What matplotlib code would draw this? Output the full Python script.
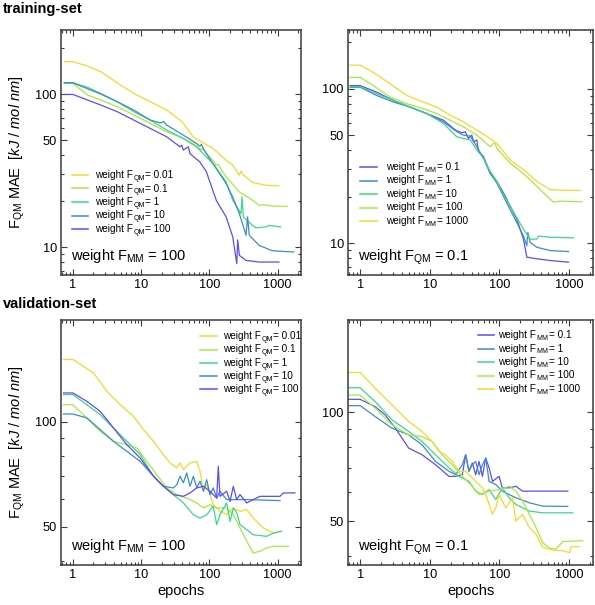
import matplotlib
matplotlib.use("Agg")
import matplotlib.pyplot as plt
from matplotlib.lines import Line2D
from matplotlib.ticker import LogLocator, FixedLocator, NullFormatter, FixedFormatter

plt.rcParams['font.family'] = ['Liberation Sans', 'DejaVu Sans']
plt.rcParams['mathtext.fontset'] = 'custom'
plt.rcParams['mathtext.rm'] = 'Liberation Sans'
plt.rcParams['mathtext.it'] = 'Liberation Sans:italic'
plt.rcParams['mathtext.bf'] = 'Liberation Sans:bold'

# ---------------- data: training-set, weight F_MM = 100 ----------------
tr_qm001_ep = [0.75, 1, 1.65, 2.57, 3.59, 5.02, 7.83, 13.7, 23.8, 37.2, 41.5, 58, 72.4, 113, 176, 220, 275, 291, 307, 430, 670, 1046]
tr_qm001_v = [162.7, 162.7, 152.4, 140, 126.6, 114.5, 101, 89.1, 78.6, 67.6, 64.3, 52.6, 49.6, 44.2, 37.0, 34.4, 29.5, 31.5, 30.0, 26.5, 25.4, 25.2]
tr_qm01_ep = [0.75, 1, 1.65, 2.57, 4.49, 7.83, 13.7, 23.8, 37.2, 58, 76.6, 80.9, 85.6, 113, 126, 134, 176, 275, 430, 536, 600, 837, 1381]
tr_qm01_v = [117.4, 117.4, 98.5, 91.4, 82.6, 72.9, 64.3, 56.7, 52.6, 47.6, 43.1, 44.6, 42.0, 37.0, 34.4, 34.8, 28.8, 23.0, 20.3, 18.8, 19.0, 18.6, 18.5]
tr_qm1_ep = [0.75, 1, 1.65, 2.57, 4.49, 7.83, 13.7, 23.8, 41.5, 64.8, 113, 176, 220, 291, 301, 315, 430, 480, 670, 760, 1105]
tr_qm1_v = [118.6, 118.6, 110.5, 101, 89.1, 76.7, 67.6, 58.2, 51.3, 45.3, 35.2, 26.7, 20.3, 16.6, 21.3, 15.8, 13.9, 13.4, 13.6, 13.9, 13.6]
tr_qm10_ep = [0.75, 1, 2.57, 4.49, 7.83, 13.7, 19.1, 21.3, 23.8, 41.5, 64.8, 72.4, 76.6, 80.9, 113, 176, 220, 275, 344, 363, 384, 536, 837, 1725]
tr_qm10_v = [118.6, 118.6, 100, 89.1, 78.6, 67.6, 64.9, 66.3, 62.7, 54.0, 47.6, 45.7, 47.1, 44.2, 35.2, 26.1, 21.3, 16.6, 12.0, 15.8, 12.0, 10.3, 9.5, 9.32]
tr_qm100_ep = [0.75, 1, 1.65, 2.57, 4.49, 7.83, 13.7, 23.8, 29.7, 37.2, 39.3, 41.5, 49.1, 51.9, 72.4, 90.5, 126, 176, 220, 252, 260, 275, 344, 536, 1046]
tr_qm100_v = [99.5, 99.5, 91.4, 84.8, 76.7, 67.6, 59.6, 52.6, 48.8, 45.3, 46.4, 43.1, 45.3, 40.9, 36.1, 31.1, 20.3, 15.8, 11.7, 7.82, 11.2, 8.87, 8.22, 8.02, 8.02]

# ---------------- data: training-set, weight F_QM = 0.1 ----------------
tr_mm01_ep = [0.72, 1, 1.73, 3.01, 5.22, 9.06, 15.7, 21.9, 24.4, 28.8, 32.2, 35.9, 40.1, 42.4, 47.3, 49.9, 58.9, 73.5, 91.6, 114, 142, 177, 221, 247, 344, 534, 978]
tr_mm01_v = [105, 105, 95.2, 84.2, 76.2, 69.1, 62.6, 55.3, 53.5, 51.9, 52.7, 47.7, 50.1, 45.4, 46.6, 39.2, 36.4, 28.4, 25.1, 21.2, 17.4, 14.3, 10.6, 8.09, 7.9, 7.70, 7.51]
tr_mm1_ep = [0.72, 1, 1.73, 3.01, 5.22, 9.06, 15.7, 24.4, 30.4, 37.9, 47.3, 58.9, 73.5, 91.6, 114, 142, 177, 221, 247, 255, 275, 344, 534, 978]
tr_mm1_v = [102.5, 102.5, 90.6, 82.1, 76.2, 69.1, 61.1, 52.7, 50.1, 49.4, 42.2, 35.5, 28.4, 24.5, 20.1, 16.5, 13.6, 11.1, 9.61, 11.7, 10.1, 9.38, 8.93, 8.80]
tr_mm10_ep = [0.72, 1, 1.73, 3.01, 5.22, 9.06, 15.7, 24.4, 30.4, 37.9, 47.3, 58.9, 73.5, 91.6, 114, 142, 177, 221, 247, 275, 344, 363, 534, 1154]
tr_mm10_v = [103.5, 103.5, 92.9, 84.2, 76.2, 69.1, 59.6, 48.9, 47.7, 46.6, 40.2, 35.5, 29.2, 25.1, 20.6, 17.4, 14.6, 12.3, 11.4, 10.6, 10.6, 11.1, 10.9, 10.8]
tr_mm100_ep = [0.72, 1, 1.55, 2.7, 4.68, 8.11, 12.6, 19.6, 30.4, 47.3, 73.5, 85.7, 91.6, 142, 177, 275, 428, 596, 743, 1520]
tr_mm100_v = [118.8, 118.8, 105, 88.4, 80.1, 74.4, 69.1, 62.6, 56.7, 50.1, 42.2, 44.8, 41.2, 33.0, 30.6, 25.8, 21.2, 18.4, 18.7, 18.5]
tr_mm1000_ep = [0.72, 1, 1.55, 2.7, 4.68, 8.11, 12.6, 19.6, 30.4, 47.3, 73.5, 85.7, 91.6, 142, 221, 344, 534, 829, 1439]
tr_mm1000_v = [142.6, 142.6, 128, 107.7, 90.6, 82.1, 76.2, 67.4, 61.1, 54.0, 47.7, 44.8, 44.3, 34.6, 29.9, 25.1, 22.2, 22.0, 21.9]

# ---------------- data: validation-set, weight F_MM = 100 ----------------
va_qm001_ep = [0.73, 1, 2.01, 3.15, 4.93, 7.72, 10.8, 15.2, 21.2, 26.6, 33.3, 37.2, 41.6, 52.1, 65.3, 73.0, 81.7, 91.4, 114, 143, 179, 224, 281, 352, 440, 617, 864, 1082]
va_qm001_v = [151, 151, 138.2, 122.4, 112.1, 103.8, 95.1, 88.0, 80.6, 76.3, 73.8, 76.3, 73.0, 76.3, 77.1, 72.2, 63.3, 66.1, 57.9, 55.4, 54.2, 56.7, 55.4, 56.1, 53.0, 49.7, 48.0, 48.6]
va_qm01_ep = [0.73, 1, 1.6, 2.51, 3.94, 6.17, 8.64, 12.1, 17.0, 23.7, 33.3, 46.6, 65.3, 81.7, 102, 128, 179, 224, 281, 352, 440, 551, 690, 864, 1432]
va_qm01_v = [112.1, 112.1, 102.7, 94.0, 88.0, 86.1, 84.2, 77.1, 70.6, 64.7, 61.9, 60.5, 58.6, 56.7, 57.9, 56.7, 56.7, 54.2, 49.7, 45.5, 42.1, 42.6, 43.5, 44.0, 44.0]
va_qm1_ep = [0.73, 1, 1.6, 2.51, 3.94, 6.17, 9.67, 15.2, 21.2, 29.7, 41.6, 58.3, 73.0, 91.4, 114, 128, 143, 179, 201, 224, 251, 281, 440, 690, 864, 1144]
va_qm1_v = [119.8, 119.8, 112.1, 105, 96.1, 88.0, 80.6, 69.9, 65.4, 61.9, 58.6, 54.2, 53.0, 54.2, 57.3, 50.8, 54.2, 58.6, 51.9, 56.7, 55.0, 50.8, 47.5, 47.0, 48.0, 48.6]
va_qm10_ep = [0.73, 1, 1.6, 2.51, 3.94, 6.17, 9.67, 15.2, 21.2, 29.7, 33.3, 37.2, 41.6, 46.6, 52.1, 58.3, 65.3, 73.0, 81.7, 91.4, 102, 114, 128, 143, 179, 224, 352, 1082]
va_qm10_v = [105.4, 105.4, 102.7, 95.1, 88.0, 82.4, 77.1, 69.9, 65.4, 64.7, 66.1, 69.9, 66.9, 71.4, 65.4, 69.9, 64.7, 67.6, 63.3, 68.3, 61.9, 64.7, 60.5, 63.3, 59.9, 59.9, 59.9, 59.5]
va_qm100_ep = [0.73, 1, 1.6, 2.51, 3.94, 6.17, 9.67, 15.2, 21.2, 29.7, 41.6, 52.1, 65.3, 81.7, 102, 128, 135, 143, 179, 201, 224, 251, 281, 352, 440, 551, 1082, 1210, 1794]
va_qm100_v = [121.1, 121.1, 114.6, 107.3, 96.1, 86.1, 78.8, 69.9, 65.4, 61.9, 61.2, 62.6, 64.7, 65.4, 63.3, 60.5, 74.6, 61.2, 63.3, 59.2, 65.4, 59.9, 61.9, 58.6, 59.9, 61.2, 61.2, 62.6, 62.6]

# ---------------- data: validation-set, weight F_QM = 0.1 ----------------
va_mm01_ep = [0.69, 1, 1.65, 2.29, 3.20, 4.98, 7.75, 12.1, 18.8, 23.5, 29.3, 32.7, 36.5, 40.8, 45.6, 50.9, 56.9, 63.5, 71.0, 79.3, 98.9, 110, 138, 172, 215, 268, 417, 957]
va_mm01_v = [108.6, 108.6, 103.6, 98.3, 90.4, 79.6, 76.3, 71.6, 66.5, 66.5, 67.2, 76.3, 68.7, 72.4, 67.2, 73.1, 66.5, 74.7, 70.2, 64.4, 66.5, 61.8, 61.8, 62.4, 60.5, 60.5, 60.5, 60.5]
va_mm1_ep = [0.69, 1, 1.65, 2.86, 4.98, 7.75, 12.1, 18.8, 23.5, 29.3, 32.7, 36.5, 40.8, 45.6, 50.9, 56.9, 63.5, 71.0, 88.5, 110, 138, 172, 268, 417, 957]
va_mm1_v = [104.3, 104.3, 97.3, 90.4, 86.6, 81.3, 73.1, 68.7, 67.2, 71.6, 76.3, 68.7, 71.6, 73.1, 67.2, 71.6, 74.7, 64.4, 63.1, 60.5, 59.2, 58.0, 56.2, 55.0, 54.9]
va_mm10_ep = [0.69, 1, 1.65, 2.86, 4.98, 7.75, 12.1, 18.8, 26.2, 36.5, 45.6, 56.9, 71.0, 88.5, 110, 138, 172, 268, 417, 1130]
va_mm10_v = [116.9, 116.9, 107.0, 95.3, 88.5, 83.0, 76.3, 70.2, 66.5, 64.4, 60.5, 59.2, 61.1, 57.4, 61.8, 58.0, 55.6, 53.3, 52.7, 52.7]
va_mm100_ep = [0.69, 1, 1.65, 2.86, 4.98, 7.75, 10.8, 15.1, 21.0, 29.3, 40.8, 50.9, 71.0, 98.9, 138, 172, 215, 268, 334, 417, 520, 649, 810, 1574]
va_mm100_v = [111.6, 111.6, 102.6, 92.3, 86.6, 85.7, 83.0, 76.3, 71.6, 66.5, 62.4, 59.2, 60.5, 61.1, 62.4, 60.5, 56.8, 52.2, 48.0, 43.6, 42.1, 41.8, 43.9, 44.1]
va_mm1000_ep = [0.69, 1, 1.65, 2.86, 4.98, 7.75, 10.8, 13.5, 16.8, 21.0, 26.2, 32.7, 45.6, 56.9, 63.5, 71.0, 79.3, 88.5, 98.9, 110, 123, 154, 172, 215, 268, 334, 417, 520, 649, 810, 1011, 1069, 1409]
va_mm1000_v = [128.9, 128.9, 116.4, 104.8, 94.3, 88.5, 83.0, 77.9, 76.3, 73.1, 68.7, 68.7, 64.4, 61.8, 59.2, 55.6, 52.2, 54.4, 59.2, 56.8, 54.4, 58.0, 50.0, 52.2, 48.0, 46.0, 42.3, 41.8, 41.5, 41.4, 40.9, 42.5, 42.5]

qm_labels = ['0.01', '0.1', '1', '10', '100']
mm_labels = ['0.1', '1', '10', '100', '1000']

C_YEL = '#F2D92C'
C_LIM = '#A6EA3E'
C_GRN = '#3DD68C'
C_BLU = '#3A8EC2'
C_VIO = '#5E4CF2'
EDGE = '#3a3a3a'

fig = plt.figure(figsize=(5.95, 6.05), dpi=100)
W, H = 595.0, 605.0

def make_ax(x0, x1, y0, y1):
    return fig.add_axes([x0 / W, 1 - y1 / H, (x1 - x0) / W, (y1 - y0) / H])

ax1 = make_ax(61, 301, 30, 275)
ax2 = make_ax(348, 593, 30, 275)
ax3 = make_ax(61, 301, 320, 565)
ax4 = make_ax(348, 593, 320, 565)

def style(ax, ylim, yticks):
    ax.set_xscale('log')
    ax.set_yscale('log')
    ax.set_xlim(0.67, 2200)
    ax.set_ylim(*ylim)
    ax.xaxis.set_major_locator(FixedLocator([1, 10, 100, 1000]))
    ax.xaxis.set_major_formatter(FixedFormatter(['1', '10', '100', '1000']))
    ax.xaxis.set_minor_locator(LogLocator(base=10, subs=range(2, 10), numticks=20))
    ax.xaxis.set_minor_formatter(NullFormatter())
    ax.yaxis.set_major_locator(FixedLocator(yticks))
    ax.yaxis.set_major_formatter(FixedFormatter([str(t) for t in yticks]))
    ax.yaxis.set_minor_locator(LogLocator(base=10, subs=range(1, 10), numticks=20))
    ax.yaxis.set_minor_formatter(NullFormatter())
    ax.tick_params(which='both', direction='in', top=True, right=True, colors=EDGE,
                   labelcolor='black', labelsize=9.2, width=0.8)
    ax.tick_params(which='major', length=4.5, pad=3)
    ax.tick_params(which='minor', length=2)
    for s in ax.spines.values():
        s.set_color(EDGE)
        s.set_linewidth(1.1)

LW = 0.9
LEG_FS = 7.2
LEG_SUB_FS = 5.0

def sub_label(ax, x_px, base_px, main, sub, rest, fs, subfs, drop):
    t1 = ax.text(x_px / W, 1 - base_px / H, main, transform=fig.transFigure,
                 fontsize=fs, va='baseline', ha='left')
    t2 = ax.annotate(sub, xy=(1, 0), xycoords=t1, xytext=(0.3, -drop),
                     textcoords='offset points', fontsize=subfs, va='bottom', ha='left',
                     annotation_clip=False)
    ax.annotate(rest, xy=(1, 0), xycoords=(t2, t1), xytext=(0.2, 0),
                textcoords='offset points', fontsize=fs, va='bottom', ha='left',
                annotation_clip=False)

def manual_legend(ax, lx0, lx1, tx, rows_y, colors, sub, labels):
    for yc, c, lab in zip(rows_y, colors, labels):
        ax.add_line(Line2D([lx0 / W, lx1 / W], [1 - yc / H, 1 - yc / H],
                           transform=fig.transFigure, color=c, lw=1.1, clip_on=False))
        sub_label(ax, tx, yc + 3, 'weight F', sub, '= ' + lab, LEG_FS, LEG_SUB_FS, 1.4)

# panel 1
p1 = [(tr_qm001_ep, tr_qm001_v, C_YEL), (tr_qm01_ep, tr_qm01_v, C_LIM),
      (tr_qm1_ep, tr_qm1_v, C_GRN), (tr_qm10_ep, tr_qm10_v, C_BLU),
      (tr_qm100_ep, tr_qm100_v, C_VIO)]
for ep, v, c in p1:
    ax1.plot(ep, v, color=c, lw=LW)
style(ax1, (6.6, 262), [10, 50, 100])
manual_legend(ax1, 72, 88, 95, [175, 188.5, 202, 215.5, 229], [c for _, _, c in p1], 'QM', qm_labels)

# panel 2
p2 = [(tr_mm01_ep, tr_mm01_v, C_VIO), (tr_mm1_ep, tr_mm1_v, C_BLU),
      (tr_mm10_ep, tr_mm10_v, C_GRN), (tr_mm100_ep, tr_mm100_v, C_LIM),
      (tr_mm1000_ep, tr_mm1000_v, C_YEL)]
for ep, v, c in p2:
    ax2.plot(ep, v, color=c, lw=LW)
style(ax2, (6.2, 241), [10, 50, 100])
manual_legend(ax2, 360, 377, 386, [167, 180.5, 194, 207.5, 221], [c for _, _, c in p2], 'MM', mm_labels)

# panel 3
p3 = [(va_qm001_ep, va_qm001_v, C_YEL), (va_qm01_ep, va_qm01_v, C_LIM),
      (va_qm1_ep, va_qm1_v, C_GRN), (va_qm10_ep, va_qm10_v, C_BLU),
      (va_qm100_ep, va_qm100_v, C_VIO)]
for ep, v, c in p3:
    ax3.plot(ep, v, color=c, lw=LW)
style(ax3, (38.9, 196), [50, 100])
manual_legend(ax3, 200, 217, 223, [336, 349.5, 363, 376, 389], [c for _, _, c in p3], 'QM', qm_labels)

# panel 4
p4 = [(va_mm01_ep, va_mm01_v, C_VIO), (va_mm1_ep, va_mm1_v, C_BLU),
      (va_mm10_ep, va_mm10_v, C_GRN), (va_mm100_ep, va_mm100_v, C_LIM),
      (va_mm1000_ep, va_mm1000_v, C_YEL)]
for ep, v, c in p4:
    ax4.plot(ep, v, color=c, lw=LW)
style(ax4, (37.8, 180), [50, 100])
manual_legend(ax4, 478, 494, 498, [335, 348.5, 362, 375.5, 389], [c for _, _, c in p4], 'MM', mm_labels)

# annotations
for ax, txt in [(ax1, r'weight F$_{\mathrm{MM}}$ = 100'), (ax3, r'weight F$_{\mathrm{MM}}$ = 100'),
                (ax2, r'weight F$_{\mathrm{QM}}$ = 0.1'), (ax4, r'weight F$_{\mathrm{QM}}$ = 0.1')]:
    ax.text(0.04, 0.06, txt, transform=ax.transAxes, fontsize=10.5, va='baseline', ha='left')

ylab = r'F$_{\mathrm{QM}}$ MAE  $\mathit{[kJ\ /\ mol\ nm]}$'
for ax in (ax1, ax3):
    ax.set_ylabel(ylab, fontsize=10.5, labelpad=6)
for ax in (ax3, ax4):
    ax.set_xlabel('epochs', fontsize=10.5, labelpad=2)

fig.text(3 / W, 1 - 13 / H, 'training-set', fontsize=10.5, fontweight='bold', va='baseline')
fig.text(3 / W, 1 - 308 / H, 'validation-set', fontsize=10.5, fontweight='bold', va='baseline')

fig.savefig('out.png', dpi=100)
